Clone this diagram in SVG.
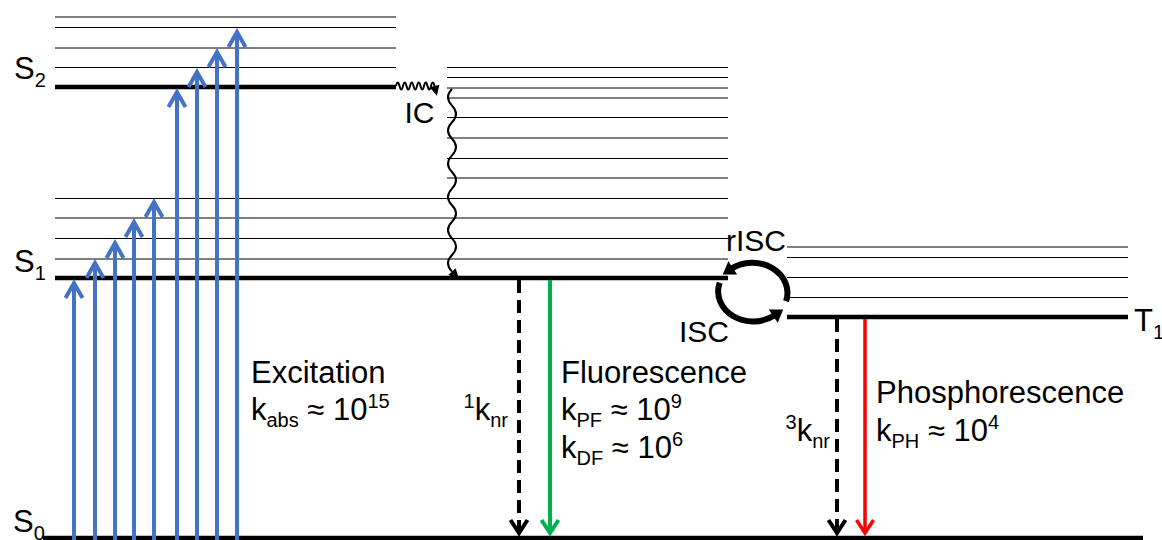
<svg xmlns="http://www.w3.org/2000/svg" width="1162" height="540" viewBox="0 0 1162 540">
<style>
.lv{stroke:#000;stroke-width:1;fill:none}
.thick{stroke:#000;stroke-width:4.5;fill:none}
.t{font-family:"Liberation Sans",Arial,sans-serif;font-size:31px;fill:#000}
.m{font-size:30px}
.s{font-size:20px}
.blue{stroke:#4472C4;stroke-width:4;fill:none}
.dash{stroke:#000;stroke-width:4;fill:none;stroke-dasharray:13 7}
.green{stroke:#00B050;stroke-width:4;fill:none}
.red{stroke:#FF0000;stroke-width:3.5;fill:none}
.wave{stroke:#000;stroke-width:2;fill:none}
.cyc{stroke:#000;stroke-width:6;fill:none}
</style>
<defs>
<marker id="hb" markerUnits="userSpaceOnUse" viewBox="-20 -20 40 40" markerWidth="40" markerHeight="40" refX="0" refY="0" orient="auto" overflow="visible"><path d="M-15,-8.5 L0,0 L-15,8.5" fill="none" stroke="#4472C4" stroke-width="4"/></marker>
<marker id="hk" markerUnits="userSpaceOnUse" viewBox="-20 -20 40 40" markerWidth="40" markerHeight="40" refX="0" refY="0" orient="auto" overflow="visible"><path d="M-13,-8.5 L0,0 L-13,8.5" fill="none" stroke="#000" stroke-width="4"/></marker>
<marker id="hg" markerUnits="userSpaceOnUse" viewBox="-20 -20 40 40" markerWidth="40" markerHeight="40" refX="0" refY="0" orient="auto" overflow="visible"><path d="M-13,-8.5 L0,0 L-13,8.5" fill="none" stroke="#00B050" stroke-width="4"/></marker>
<marker id="hr" markerUnits="userSpaceOnUse" viewBox="-20 -20 40 40" markerWidth="40" markerHeight="40" refX="0" refY="0" orient="auto" overflow="visible"><path d="M-13,-8.5 L0,0 L-13,8.5" fill="none" stroke="#FF0000" stroke-width="3.5"/></marker>
<marker id="hw" markerUnits="userSpaceOnUse" viewBox="-20 -20 40 40" markerWidth="40" markerHeight="40" refX="0" refY="0" orient="auto" overflow="visible"><path d="M0,-5 L10,0 L0,5 z" fill="#000"/></marker>
<marker id="hc" markerUnits="userSpaceOnUse" viewBox="-20 -20 40 40" markerWidth="40" markerHeight="40" refX="0" refY="0" orient="auto" overflow="visible"><path d="M-2,-8 L10,0 L-2,8 z" fill="#000"/></marker>
</defs>

<g id="S2">
<path class="lv" d="M55,17H396M55,27.5H396M55,48H396M55,67.5H396"/>
<path class="thick" d="M55,87H396"/>
<text class="t" x="14" y="79">S<tspan class="s" dy="8">2</tspan></text>
</g>

<g id="S2-upper-vibrational">
<path class="lv" d="M447,67.5H728M447,77.5H728M447,88H728M447,98H728M447,117.5H728M447,138H728M447,158.5H728M447,178H728"/>
</g>

<g id="S1">
<path class="lv" d="M55,198.5H728M55,218H728M55,238.5H728M55,259H728"/>
<path class="thick" d="M55,278H728"/>
<text class="t" x="14" y="272">S<tspan class="s" dy="8">1</tspan></text>
</g>

<g id="T1">
<path class="lv" d="M787,247H1128M787,257.5H1128M787,277.5H1128M787,297.5H1128"/>
<path class="thick" d="M787,317H1128"/>
<text class="t" x="1134" y="331">T<tspan class="s" dy="8">1</tspan></text>
</g>

<g id="S0">
<path class="thick" d="M43,538H1143"/>
<text class="t" x="13" y="532">S<tspan class="s" dy="8">0</tspan></text>
</g>

<g id="connectors">
<g id="excitation">
<path class="blue" marker-end="url(#hb)" d="M74,540V283"/>
<path class="blue" marker-end="url(#hb)" d="M95,540V263"/>
<path class="blue" marker-end="url(#hb)" d="M115,540V243"/>
<path class="blue" marker-end="url(#hb)" d="M134,540V222"/>
<path class="blue" marker-end="url(#hb)" d="M154,540V202"/>
<path class="blue" marker-end="url(#hb)" d="M177,540V92"/>
<path class="blue" marker-end="url(#hb)" d="M197,540V72"/>
<path class="blue" marker-end="url(#hb)" d="M217,540V52"/>
<path class="blue" marker-end="url(#hb)" d="M237,540V32"/>
</g>
<g id="ic">
<path class="wave" marker-end="url(#hw)" d="M396,86q1.75,-7 3.5,0t3.5,0t3.5,0t3.5,0t3.5,0t3.5,0t3.5,0t3.5,0t3.5,0t3.5,0t3.5,0"/>
<path class="wave" marker-end="url(#hw)" d="M452,89q-8,8.3 0,16.6t0,16.6t0,16.6t0,16.6t0,16.6t0,16.6t0,16.6t0,16.6t0,16.6t0,16.6t0,16.6"/>
</g>
<g id="decay">
<path class="dash" marker-end="url(#hk)" d="M519,280V533"/>
<path class="green" marker-end="url(#hg)" d="M550,280V533"/>
<path class="dash" marker-end="url(#hk)" d="M837,319V533"/>
<path class="red" marker-end="url(#hr)" d="M865,319V533"/>
</g>
<g id="isc-cycle">
<path class="cyc" marker-end="url(#hc)" d="M786,301.3A35,30 0 0 0 731.1,269"/>
<path class="cyc" marker-end="url(#hc)" d="M719.7,282.7A35,30 0 0 0 774.9,315"/>
</g>
</g>

<g id="labels">
<text class="t m" x="419.5" y="123" text-anchor="middle">IC</text>
<text class="t m" x="756" y="251" text-anchor="middle">rISC</text>
<text class="t m" x="729" y="342" text-anchor="end">ISC</text>
<text class="t" x="251" y="383">Excitation</text>
<text class="t" x="251" y="420">k<tspan class="s" dy="7">abs</tspan><tspan dy="-7"> ≈ 10</tspan><tspan class="s" dy="-12">15</tspan></text>
<text class="t" x="508" y="420" text-anchor="end"><tspan class="s" dy="-12">1</tspan><tspan dy="12">k</tspan><tspan class="s" dy="7">nr</tspan></text>
<text class="t" x="561" y="383">Fluorescence</text>
<text class="t" x="561" y="420">k<tspan class="s" dy="7">PF</tspan><tspan dy="-7"> ≈ 10</tspan><tspan class="s" dy="-12">9</tspan></text>
<text class="t" x="561" y="458">k<tspan class="s" dy="7">DF</tspan><tspan dy="-7"> ≈ 10</tspan><tspan class="s" dy="-12">6</tspan></text>
<text class="t" x="830" y="441" text-anchor="end"><tspan class="s" dy="-12">3</tspan><tspan dy="12">k</tspan><tspan class="s" dy="7">nr</tspan></text>
<text class="t" x="876" y="403">Phosphorescence</text>
<text class="t" x="876" y="441">k<tspan class="s" dy="7">PH</tspan><tspan dy="-7"> ≈ 10</tspan><tspan class="s" dy="-12">4</tspan></text>
</g>
</svg>
